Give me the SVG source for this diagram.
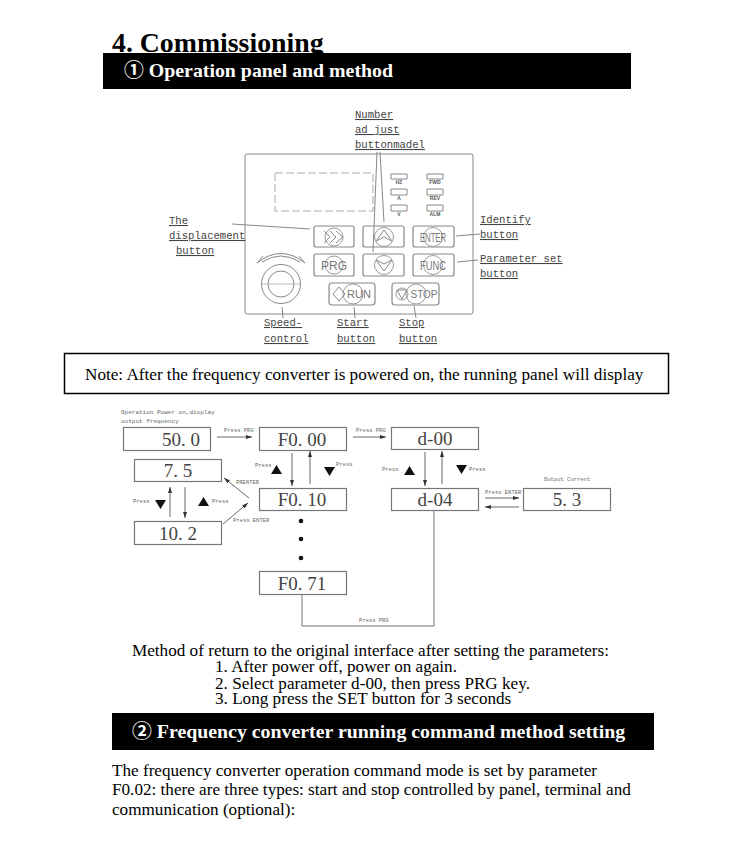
<svg xmlns="http://www.w3.org/2000/svg" width="750" height="852" viewBox="0 0 750 852">
<style>
.serif{font-family:"Liberation Serif","Noto Sans CJK SC",serif;fill:#000}
.h{font-weight:bold;font-size:19.850px;fill:#fff}
.mono{font-family:"Liberation Mono","DejaVu Sans Mono",monospace;fill:#555}
.lab{font-size:10.600px;fill:#444}
.tiny{font-size:5.500px;fill:#666}
.tiny6{font-size:6px;fill:#666}
.val{font-family:"Liberation Serif",serif;font-size:19px;fill:#444;text-anchor:middle}
.pb{fill:#fff;stroke:#888;stroke-width:1.2}
.box{fill:#fff;stroke:#777;stroke-width:1.2}
.ln{fill:none;stroke:#888;stroke-width:1}
.cn{fill:none;stroke:#666;stroke-width:1;marker-end:url(#a)}
.btxt{font-family:"Liberation Sans",sans-serif;font-size:12px;fill:#777;text-anchor:middle}
.ind{font-family:"Liberation Sans",sans-serif;font-weight:bold;font-size:5px;fill:#555;text-anchor:middle}
.c{fill:none;stroke:#999;stroke-width:1}
</style>
<defs>
<marker id="a" markerWidth="7" markerHeight="6" refX="6" refY="3" orient="auto"><path d="M0 1L6 3L0 5z" fill="#333"/></marker>
</defs>
<rect width="750" height="852" fill="#fff"/>
<text class="serif" x="112" y="52" font-size="27.800" font-weight="bold">4. Commissioning</text>
<g id="bar1"><rect x="103" y="53" width="528" height="36" fill="#000"/><text class="serif h" x="124" y="77">① Operation panel and method</text></g>

<g id="panel">
<rect class="ln" x="245" y="154" width="228" height="160" rx="2"/>
<rect x="275" y="173" width="98" height="38" fill="none" stroke="#aaa" stroke-dasharray="8 3"/>
<path class="ln" d="M391 174h16v5h-16zM391 189h16v6h-16zM391 205h16v6h-16zM427 174h16v5h-16zM427 189h16v6h-16zM427 205h16v6h-16z"/>
<text class="ind" x="399" y="184">HZ</text><text class="ind" x="399" y="200">A</text><text class="ind" x="399" y="216">V</text>
<text class="ind" x="435" y="184">FWD</text><text class="ind" x="435" y="200">REV</text><text class="ind" x="435" y="216">ALM</text>
<path class="ln" d="M257 263Q281 244 305 263M262 262Q281 250 300 262M257 263l6-7M305 263l-6-7"/>
<circle class="ln" cx="281" cy="284" r="19.500"/><circle class="ln" cx="281" cy="284" r="13"/>
<path d="M262 284H300" stroke="#bbb"/>
</g>
<g id="btn-displacement"><rect class="pb" x="314" y="226" width="40" height="21" rx="2"/><circle class="c" cx="334" cy="237" r="9"/><path class="ln" d="M324 231l6 6l-6 6M330 231l6 6l-6 6M336 231l7 6l-7 6"/></g>
<g id="btn-prg"><rect class="pb" x="314" y="254" width="40" height="22" rx="2"/><circle class="c" cx="334" cy="265" r="9"/><text class="btxt" x="334" y="269.500">PRG</text></g>
<g id="btn-up"><rect class="pb" x="363" y="226" width="41" height="21" rx="2"/><circle class="c" cx="384" cy="237" r="9.500"/><path class="ln" d="M376 241l8-11l8 11l-8-4z"/></g>
<g id="btn-down"><rect class="pb" x="363" y="254" width="41" height="22" rx="2"/><circle class="c" cx="384" cy="265" r="9.500"/><path class="ln" d="M376 260l8 11l8-11l-8 4z"/></g>
<g id="btn-enter"><rect class="pb" x="413" y="226" width="41" height="21" rx="2"/><circle class="c" cx="433" cy="237" r="9.500"/><text class="btxt" x="433" y="242" textLength="26" lengthAdjust="spacingAndGlyphs">ENTER</text></g>
<g id="btn-func"><rect class="pb" x="413" y="254" width="41" height="22" rx="2"/><circle class="c" cx="433" cy="265" r="9.500"/><text class="btxt" x="433" y="270" textLength="26" lengthAdjust="spacingAndGlyphs">FUNC</text></g>
<g id="btn-run"><rect class="pb" x="329" y="283" width="46" height="22" rx="3"/><circle class="c" cx="353" cy="294" r="10"/><path class="ln" d="M339 287l-6 7l6 7l6-7z"/><text class="btxt" x="359" y="298" font-size="11" style="font-size:11px">RUN</text></g>
<g id="btn-stop"><rect class="pb" x="392" y="283" width="47" height="22" rx="3"/><circle class="c" cx="416" cy="294" r="10"/><circle class="c" cx="402" cy="294" r="6"/><path class="ln" d="M397 290h10l-5 9z"/><text class="btxt" x="424" y="298" style="font-size:10px">STOP</text></g>

<g id="labels-panel">
<text class="mono lab" x="355" y="118" text-decoration="underline">Number</text>
<text class="mono lab" x="355" y="133" text-decoration="underline">ad just</text>
<text class="mono lab" x="355" y="148" text-decoration="underline">buttonmadel</text>
<text class="mono lab" x="169" y="224" text-decoration="underline">The</text>
<text class="mono lab" x="169" y="239" text-decoration="underline">displacement</text>
<text class="mono lab" x="176" y="254" text-decoration="underline">button</text>
<text class="mono lab" x="480" y="223" text-decoration="underline">Identify</text>
<text class="mono lab" x="480" y="238" text-decoration="underline">button</text>
<text class="mono lab" x="480" y="262" text-decoration="underline">Parameter set</text>
<text class="mono lab" x="480" y="277" text-decoration="underline">button</text>
<text class="mono lab" x="264" y="326" text-decoration="underline">Speed-</text>
<text class="mono lab" x="264" y="342" text-decoration="underline">control</text>
<text class="mono lab" x="337" y="326" text-decoration="underline">Start</text>
<text class="mono lab" x="337" y="342" text-decoration="underline">button</text>
<text class="mono lab" x="399" y="326" text-decoration="underline">Stop</text>
<text class="mono lab" x="399" y="342" text-decoration="underline">button</text>
</g>
<g id="panel-leaders">
<path class="ln" d="M232 224L310 229M380 152L384 222M377 152L373 252M456 236L480 234M457 262L478 260M282 307L283 318M354 307L355 318M414 306L416 318"/>
</g>

<g id="note"><rect x="64.500" y="353.500" width="604" height="40" fill="#fff" stroke="#000" stroke-width="1.500"/><text class="serif" x="85" y="380" font-size="17.150">Note: After the frequency converter is powered on, the running panel will display</text></g>

<g id="flow-captions">
<text class="mono tiny6" x="121" y="414">Operation Power on,display</text>
<text class="mono tiny6" x="121" y="423">output frequency</text>
<text class="mono tiny" x="224" y="432">Press PRG</text>
<text class="mono tiny" x="356" y="432">Press PRG</text>
<text class="mono tiny" x="255" y="467">Press</text>
<text class="mono tiny" x="336" y="466">Press</text>
<text class="mono tiny" x="382" y="471">Press</text>
<text class="mono tiny" x="469" y="471">Press</text>
<text class="mono tiny" x="544" y="481">Output Current</text>
<text class="mono tiny" x="485" y="494">Press ENTER</text>
<text class="mono tiny" x="236" y="484">PRENTER</text>
<text class="mono tiny" x="233" y="522">Press ENTER</text>
<text class="mono tiny" x="133" y="503">Press</text>
<text class="mono tiny" x="212" y="503">Press</text>
<text class="mono tiny" x="359" y="622">Press PRG</text>
</g>
<g id="n500"><rect class="box" x="123.500" y="427.500" width="87" height="23"/><text class="val" x="181" y="446">50. 0</text></g>
<g id="nF000"><rect class="box" x="259.500" y="427.500" width="87" height="23"/><text class="val" x="302" y="446">F0. 00</text></g>
<g id="nd00"><rect class="box" x="391.500" y="427.500" width="87" height="22"/><text class="val" x="435" y="445">d-00</text></g>
<g id="n75"><rect class="box" x="134.500" y="459.500" width="87" height="22"/><text class="val" x="178" y="477">7. 5</text></g>
<g id="nF010"><rect class="box" x="259.500" y="488.500" width="87" height="22"/><text class="val" x="302" y="506">F0. 10</text></g>
<g id="nd04"><rect class="box" x="391.500" y="488.500" width="87" height="22"/><text class="val" x="435" y="506">d-04</text></g>
<g id="n53"><rect class="box" x="523.500" y="488.500" width="87" height="22"/><text class="val" x="567" y="506">5. 3</text></g>
<g id="n102"><rect class="box" x="134.500" y="521.500" width="87" height="23"/><text class="val" x="178" y="540">10. 2</text></g>
<g id="nF071"><rect class="box" x="259.500" y="571.500" width="87" height="23"/><text class="val" x="302" y="590">F0. 71</text></g>

<g id="connectors">
<path class="cn" d="M217 437H252"/>
<path class="cn" d="M353 437H386"/>
<path class="cn" d="M292 453V486"/>
<path class="cn" d="M310 484V451"/>
<path class="cn" d="M425 452V486"/>
<path class="cn" d="M442 484V451"/>
<path class="cn" d="M485 498H519"/>
<path class="cn" d="M519 507H485"/>
<path class="cn" d="M170 517V487"/>
<path class="cn" d="M185 487V518"/>
<path class="cn" d="M249 498L224 478"/>
<path class="cn" d="M223 524L248 503"/>
<path d="M302 595V626H434V511" fill="none" stroke="#777" stroke-width="1"/>
</g>
<g id="glyphs" fill="#111">
<path d="M271 474h11l-5.500-9zM324 467h11l-5.500 9zM404 475h11l-5.500-9zM456 465h11l-5.500 9zM155 500h11l-5.500 9zM198 506h11l-5.500-9z"/>
<circle cx="301" cy="521" r="2.300"/><circle cx="301" cy="539" r="2.300"/><circle cx="301" cy="558" r="2.300"/>
</g>

<g id="return-text">
<text class="serif" x="132" y="656" font-size="17.150">Method of return to the original interface after setting the parameters:</text>
<text class="serif" x="215" y="672" font-size="17.150">1. After power off, power on again.</text>
<text class="serif" x="215" y="689" font-size="17.150">2. Select parameter d-00, then press PRG key.</text>
<text class="serif" x="215" y="704" font-size="17.150">3. Long press the SET button for 3 seconds</text>
</g>
<g id="bar2"><rect x="112" y="713" width="542" height="37" fill="#000"/><text class="serif h" x="132" y="738">② Frequency converter running command method setting</text></g>
<g id="command-text">
<text class="serif" x="112" y="776" font-size="17.150">The frequency converter operation command mode is set by parameter</text>
<text class="serif" x="112" y="795" font-size="17.150">F0.02: there are three types: start and stop controlled by panel, terminal and</text>
<text class="serif" x="112" y="815" font-size="17.150">communication (optional):</text>
</g>
</svg>
